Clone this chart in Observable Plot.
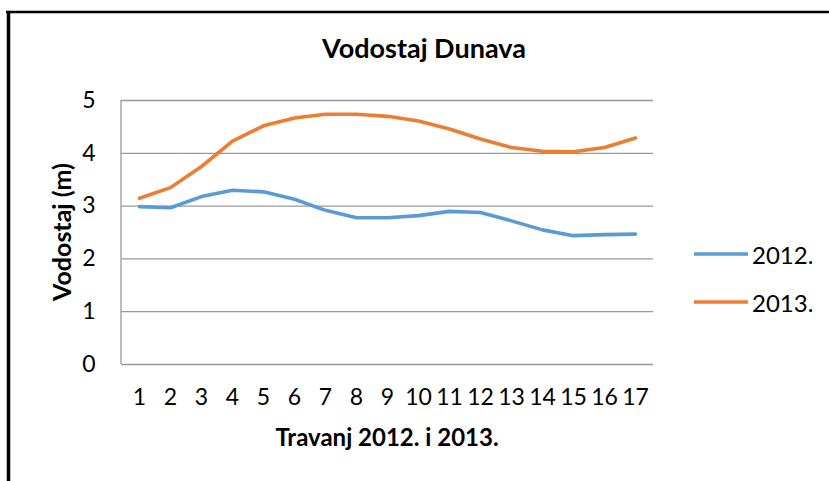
<!DOCTYPE html>
<html>
<head>
<meta charset="utf-8">
<script src="https://cdn.jsdelivr.net/npm/d3@7"></script>
<script src="https://cdn.jsdelivr.net/npm/@observablehq/plot@0.6"></script>
<style>
  html, body { margin: 0; padding: 0; background: #fff; }
  #chart { width: 829px; height: 481px; overflow: hidden; }
  svg { font-family: Lato, "Open Sans", sans-serif; }
</style>
</head>
<body>
<div id="chart"></div>
<script>
const days = ["1","2","3","4","5","6","7","8","9","10","11","12","13","14","15","16","17"];
const series = ["2012.", "2013."];
const values2012 = [2.99, 2.97, 3.18, 3.30, 3.27, 3.13, 2.92, 2.78, 2.78, 2.82, 2.90, 2.88, 2.72, 2.55, 2.44, 2.46, 2.47];
const values2013 = [3.15, 3.35, 3.75, 4.23, 4.52, 4.67, 4.74, 4.74, 4.70, 4.61, 4.46, 4.27, 4.11, 4.04, 4.03, 4.11, 4.29];
const yTicks = [0, 1, 2, 3, 4, 5];
const colors = ["#5B9BD5", "#ED7D31"];
const titleText = "Vodostaj Dunava";
const xLabelText = "Travanj 2012. i 2013.";
const yLabelText = "Vodostaj (m)";

const rows = [];
days.forEach((d, i) => {
  rows.push({day: d, series: series[0], value: values2012[i]});
  rows.push({day: d, series: series[1], value: values2013[i]});
});

const W = 829, H = 481;
const mL = 121, mR = 176, mT = 100, mB = 117;

const chart = Plot.plot({
  width: W,
  height: H,
  marginLeft: mL,
  marginRight: mR,
  marginTop: mT,
  marginBottom: mB,
  style: {fontFamily: "Lato, 'Open Sans', sans-serif", background: "#fff", overflow: "visible"},
  x: {type: "point", domain: days, padding: 0.5},
  y: {domain: [0, 5]},
  color: {domain: series, range: colors},
  marks: [
    Plot.gridY(yTicks, {stroke: "#999", strokeOpacity: 1, strokeWidth: 1.3}),
    Plot.axisY(yTicks, {tickSize: 0, tickPadding: 26, fontSize: 23, fill: "#000", label: null, tickFormat: d3.format("d")}),
    Plot.axisX(days, {tickSize: 0, tickPadding: 24, fontSize: 23, fill: "#000", label: null}),
    Plot.line(rows, {x: "day", y: "value", z: "series", stroke: "series", strokeWidth: 3.6, strokeLinejoin: "round", strokeLinecap: "round"})
  ]
});

document.getElementById("chart").appendChild(chart);

const svg = d3.select(chart);

// left axis line
svg.append("line")
  .attr("x1", mL).attr("x2", mL)
  .attr("y1", mT).attr("y2", H - mB)
  .attr("stroke", "#999").attr("stroke-width", 1.3);

// border frame (top and left)
svg.append("line").attr("x1", 6).attr("x2", W).attr("y1", 12).attr("y2", 12)
  .attr("stroke", "#000").attr("stroke-width", 2.5);
svg.append("line").attr("x1", 8.5).attr("x2", 8.5).attr("y1", 11).attr("y2", H)
  .attr("stroke", "#000").attr("stroke-width", 3.5);

// title
svg.append("text").text(titleText)
  .attr("x", 424).attr("y", 58)
  .attr("text-anchor", "middle")
  .attr("font-weight", "bold").attr("font-size", 27).attr("fill", "#000");

// x label
svg.append("text").text(xLabelText)
  .attr("x", (mL + (W - mR)) / 2).attr("y", 446)
  .attr("text-anchor", "middle")
  .attr("font-weight", "bold").attr("font-size", 24).attr("fill", "#000");

// y label
svg.append("text").text(yLabelText)
  .attr("transform", `translate(61,${(mT + H - mB) / 2}) rotate(-90)`)
  .attr("text-anchor", "middle").attr("dominant-baseline", "central")
  .attr("font-weight", "bold").attr("font-size", 25).attr("fill", "#000");

// legend
const legY = [254, 302];
series.forEach((s, i) => {
  svg.append("line").attr("x1", 694).attr("x2", 748).attr("y1", legY[i]).attr("y2", legY[i])
    .attr("stroke", colors[i]).attr("stroke-width", 3.6);
  svg.append("text").text(s)
    .attr("x", 752).attr("y", legY[i])
    .attr("text-anchor", "start")
    .attr("dominant-baseline", "central")
    .attr("font-size", 24).attr("fill", "#000");
});
</script>
</body>
</html>
